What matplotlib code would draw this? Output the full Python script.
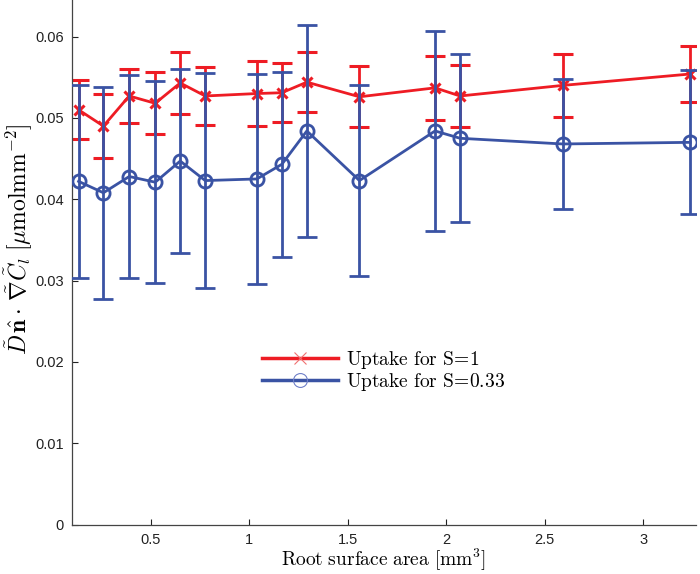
#!/usr/bin/env python3
"""Uptake vs root surface area, with error bars, for two values of S."""

import matplotlib

matplotlib.use("Agg")
import matplotlib.pyplot as plt
from matplotlib.lines import Line2D

# root surface area [mm^3]
area = [0.133, 0.259, 0.390, 0.522, 0.649, 0.776, 1.038, 1.165, 1.292,
        1.559, 1.943, 2.070, 2.591, 3.238]

# S = 1
uptake_s1 = [0.0510, 0.0490, 0.0527, 0.0518, 0.0543, 0.0527, 0.0530, 0.0531,
             0.0544, 0.0526, 0.0537, 0.0527, 0.0540, 0.0554]
err_s1 = [0.00363, 0.00392, 0.00328, 0.00382, 0.00377, 0.00355, 0.00396,
          0.00361, 0.00371, 0.00376, 0.00396, 0.00378, 0.00386, 0.00349]

# S = 0.33
uptake_s033 = [0.0422, 0.0408, 0.0428, 0.0421, 0.0447, 0.0423, 0.0425, 0.0443,
               0.0484, 0.0423, 0.0484, 0.0475, 0.0468, 0.0470]
err_s033 = [0.01189, 0.01302, 0.01247, 0.01245, 0.01128, 0.01319, 0.01286,
            0.01138, 0.01306, 0.01171, 0.01230, 0.01030, 0.00800, 0.00886]

labels = [r"Uptake for S\!=\!1", r"Uptake for S\!=\!0.33"]

RED = "#ee1c24"
BLUE = "#3a53a4"

plt.rcParams["mathtext.fontset"] = "cm"
plt.rcParams["font.family"] = ["Liberation Sans", "DejaVu Sans"]

fig = plt.figure(figsize=(7.0, 5.74), dpi=100)
ax = fig.add_axes([0.103, 0.086, 0.891, 0.914])

ax.errorbar(area, uptake_s1, yerr=err_s1, color=RED, linewidth=2.0,
            elinewidth=2.0, capsize=7, capthick=2.0, marker="x",
            markersize=7.5, markeredgewidth=2.2, zorder=2)
ax.errorbar(area, uptake_s033, yerr=err_s033, color=BLUE, linewidth=2.0,
            elinewidth=2.0, capsize=7, capthick=2.0, marker="o",
            markersize=9.5, markeredgewidth=2.0, markerfacecolor="none",
            zorder=3)

ax.set_xlim(0.1, 3.267)
ax.set_ylim(0, 0.0645)
ax.set_xticks([0.5, 1, 1.5, 2, 2.5, 3])
ax.set_xticklabels(["0.5", "1", "1.5", "2", "2.5", "3"])
ax.set_yticks([0, 0.01, 0.02, 0.03, 0.04, 0.05, 0.06])
ax.set_yticklabels(["0", "0.01", "0.02", "0.03", "0.04", "0.05", "0.06"])
ax.tick_params(direction="in", length=4, width=0.8, labelsize=10.5,
               colors="#222222", pad=6)
for side in ("top", "right"):
    ax.spines[side].set_visible(False)
for side in ("left", "bottom"):
    ax.spines[side].set_color("#444444")
    ax.spines[side].set_linewidth(0.9)

ax.set_xlabel(r"$\mathrm{Root\ surface\ area\ [mm^3]}$", fontsize=14,
              labelpad=0)
ax.set_ylabel(r"$\tilde{D}\,\hat{\mathbf{n}}\cdot\,\tilde{\nabla}\tilde{C}_l\;"
              r"[\mu\mathrm{mol mm}^{-2}]$", fontsize=17, labelpad=0)
ax.yaxis.set_label_coords(-0.059, 0.545)

handles = [
    Line2D([], [], color=RED, linewidth=2.5, marker="x", markersize=8,
           markeredgewidth=0.8, markeredgecolor="#f07070"),
    Line2D([], [], color=BLUE, linewidth=2.5, marker="o", markersize=10,
           markeredgewidth=0.8, markerfacecolor="none",
           markeredgecolor="#7080c8"),
]
leg_labels = [r"$\mathrm{" + t.replace(" ", r"\ ") + "}$" for t in labels]
ax.legend(handles, leg_labels, loc="upper left",
          bbox_to_anchor=(0.292, 0.35), frameon=False, fontsize=14,
          handlelength=3.9, handletextpad=0.4, labelspacing=0.0,
          borderaxespad=0)

fig.savefig("out.png", dpi=100)
